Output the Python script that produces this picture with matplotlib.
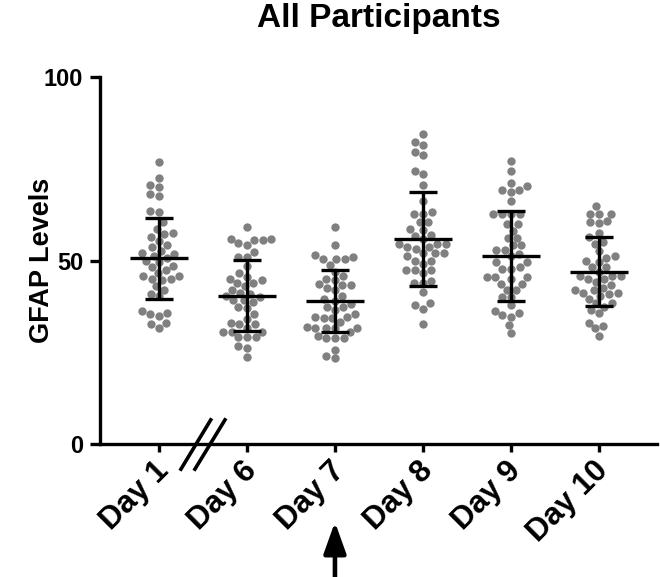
import matplotlib
matplotlib.use('Agg')
import matplotlib.pyplot as plt
import numpy as np
import pandas as pd
import seaborn as sns
from matplotlib.transforms import blended_transform_factory, ScaledTranslation

days = ['Day 1', 'Day 6', 'Day 7', 'Day 8', 'Day 9', 'Day 10']

day1 = [76.8, 72.5, 70.5, 70.0, 68.2, 67.7, 63.5, 63.2, 60.4, 58.6, 57.4, 57.2,
        56.5, 55.4, 54.1, 53.6, 52.7, 52.0, 51.8, 51.3, 50.6, 50.0, 49.5, 48.6,
        48.2, 47.5, 46.6, 45.7, 45.7, 45.0, 45.0, 44.6, 43.0, 42.1, 41.0, 40.2,
        36.2, 35.8, 35.4, 35.0, 32.9, 31.7, 32.6]
day6 = [59.2, 55.8, 55.6, 54.7, 55.8, 55.6, 54.2, 52.3, 50.9, 50.9, 48.6, 46.5,
        44.9, 45.5, 43.9, 43.9, 44.6, 43.0, 42.1, 41.0, 41.2, 40.4, 40.0, 39.2,
        38.7, 39.2, 37.4, 37.0, 35.3, 34.0, 32.6, 33.1, 32.6, 31.5, 30.6, 30.6,
        30.6, 29.1, 29.1, 29.1, 26.6, 26.1, 23.7]
day7 = [59.2, 54.3, 50.9, 50.3, 50.3, 50.3, 51.4, 48.8, 47.0, 45.7, 45.0, 44.6,
        43.7, 43.2, 43.2, 42.5, 41.9, 40.3, 39.5, 38.9, 38.2, 37.4, 37.4, 36.5,
        35.5, 34.2, 33.3, 34.7, 34.7, 34.2, 31.5, 31.5, 31.5, 31.5, 32.0, 30.5,
        28.8, 28.8, 28.8, 29.3, 25.7, 23.4, 23.9]
day8 = [84.5, 82.2, 81.5, 79.5, 78.8, 73.6, 74.3, 70.5, 66.2, 63.2, 62.8, 62.8,
        60.4, 60.4, 58.7, 58.3, 56.9, 56.8, 55.9, 54.5, 53.6, 53.6, 53.2, 54.5,
        54.5, 52.0, 52.0, 52.0, 50.0, 50.0, 51.1, 49.1, 47.3, 46.6, 47.3, 47.3,
        44.0, 44.0, 44.5, 41.3, 37.8, 36.9, 38.3, 32.7]
day9 = [77.0, 74.3, 71.0, 69.1, 70.3, 69.1, 68.6, 66.2, 62.6, 62.6, 62.6, 62.6,
        59.9, 59.9, 58.1, 56.1, 56.1, 54.1, 54.1, 52.9, 52.9, 51.8, 51.2, 49.5,
        48.2, 49.5, 47.8, 47.8, 45.5, 45.0, 45.5, 45.5, 43.7, 43.7, 42.1, 42.1,
        40.1, 40.1, 37.8, 36.3, 35.8, 35.1, 34.7, 32.4, 30.2]
day10 = [64.9, 62.8, 62.8, 62.8, 60.4, 60.1, 60.8, 57.4, 56.3, 55.0, 54.5, 52.5,
         50.7, 51.1, 50.0, 49.5, 48.2, 48.2, 47.0, 45.9, 45.0, 44.1, 45.9, 45.0,
         45.9, 43.2, 41.9, 41.2, 42.5, 40.8, 41.2, 41.9, 38.3, 40.3, 39.6, 37.4,
         38.3, 35.6, 36.5, 32.2, 33.1, 31.5, 29.5]

means = [50.6, 40.4, 38.9, 55.9, 51.2, 47.0]
sds = [11.0, 9.7, 8.5, 12.8, 12.2, 9.4]

yticks = [0, 50, 100]
title = 'All Participants'
ylabel = 'GFAP Levels'

groups = [day1, day6, day7, day8, day9, day10]

plt.rcParams['font.family'] = ['Liberation Sans', 'DejaVu Sans']
plt.rcParams['font.weight'] = 'bold'

fig = plt.figure(figsize=(6.6, 5.77), dpi=100)
ax = fig.add_axes([0.1515, 0.2305, 0.844, 0.636])

df = pd.DataFrame({
    'day': np.repeat(days, [len(g) for g in groups]),
    'value': np.concatenate(groups),
})
sns.swarmplot(data=df, x='day', y='value', order=days, color='#808080',
              size=6, linewidth=0, ax=ax, zorder=1)

x = np.arange(len(days))
ax.errorbar(x, means, yerr=sds, fmt='none', ecolor='black', elinewidth=2.4,
            capsize=10, capthick=2.4, zorder=3)
ax.hlines(means, x - 0.33, x + 0.33, colors='black', lw=2.4, zorder=3)

ax.set_xlim(-0.67, 5.66)
ax.set_ylim(0, 100)
ax.set_yticks(yticks)
ax.set_xticks(x)
ax.set_xticklabels(days)
for s in ['top', 'right']:
    ax.spines[s].set_visible(False)
for s in ['left', 'bottom']:
    ax.spines[s].set_linewidth(2.4)
ax.tick_params(axis='y', length=7.2, width=2.4, labelsize=17, pad=5)
ax.tick_params(axis='x', length=5.8, width=2.4, labelsize=22.5, pad=10)
shift = ScaledTranslation(0.05, 0.0, fig.dpi_scale_trans)
for lbl in ax.get_xticklabels():
    lbl.set_rotation(45)
    lbl.set_ha('right')
    lbl.set_va('center')
    lbl.set_rotation_mode('anchor')
    lbl.set_fontweight('bold')
    lbl.set_transform(lbl.get_transform() + shift)
for lbl in ax.get_yticklabels():
    lbl.set_fontweight('bold')

ax.set_xlabel('')
ax.set_ylabel(ylabel, fontsize=19.5, fontweight='bold')
ax.yaxis.set_label_coords(-0.08, 0.5)
ax.set_title(title, fontsize=24, fontweight='bold', pad=36)

trans = blended_transform_factory(ax.transData, ax.transAxes)
for x0, x1 in [(0.239, 0.599), (0.398, 0.761)]:
    ax.plot([x0, x1], [-0.0728, 0.070], color='black', lw=2.6,
            transform=trans, clip_on=False, solid_capstyle='butt', zorder=4)

ax.annotate('', xy=(2, (444 - 522) / 367), xytext=(2, (444 - 600) / 367),
            xycoords=trans, textcoords=trans, annotation_clip=False,
            arrowprops=dict(arrowstyle='-|>,head_length=1.9,head_width=0.68',
                            mutation_scale=10, lw=3.3, color='black',
                            shrinkA=0, shrinkB=0))

fig.savefig('out.png', dpi=100)
